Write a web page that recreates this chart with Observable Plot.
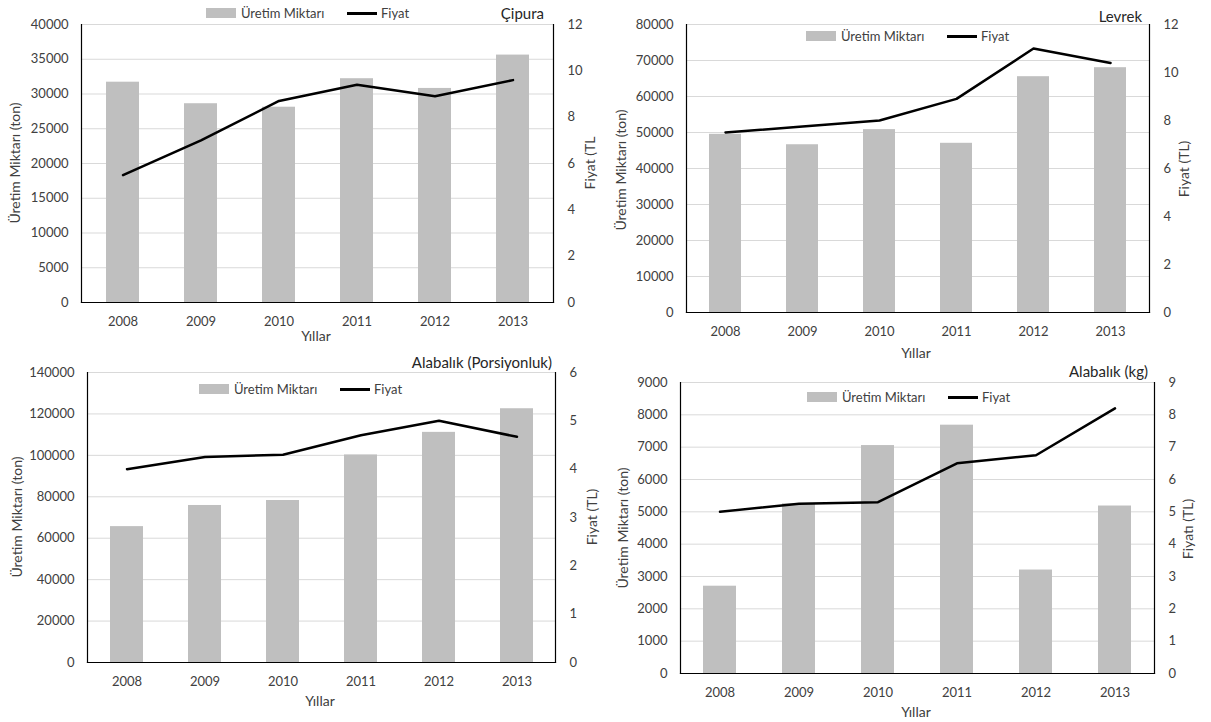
<!DOCTYPE html>
<html>
<head>
<meta charset="utf-8">
<script src="https://cdn.jsdelivr.net/npm/d3@7"></script>
<script src="https://cdn.jsdelivr.net/npm/@observablehq/plot@0.6"></script>
<style>
  html, body { margin: 0; padding: 0; background: #fff; }
  #root { position: relative; width: 1211px; height: 722px; overflow: hidden; font-family: Lato, "Open Sans", sans-serif; color: #333; }
  .abs { position: absolute; white-space: nowrap; line-height: 1; }
  .panel { position: absolute; }
  .panel svg { position: absolute; left: 0; top: 0; max-width: none; }
</style>
</head>
<body>
<div id="root"></div>
<script>
// ---------- data ----------
const years = ["2008", "2009", "2010", "2011", "2012", "2013"];

const cipuraUretim = [31700, 28600, 28100, 32200, 30800, 35600];
const cipuraFiyat  = [5.5, 7.0, 8.7, 9.4, 8.9, 9.6];

const levrekUretim = [49500, 46600, 50800, 47000, 65500, 68000];
const levrekFiyat  = [7.5, 7.75, 8.0, 8.9, 11.0, 10.4];

const porsiyonUretim = [65600, 75800, 78200, 100200, 111100, 122500];
const porsiyonFiyat  = [4.0, 4.25, 4.3, 4.7, 5.0, 4.67];

const kgUretim = [2700, 5250, 7050, 7680, 3200, 5180];
const kgFiyat  = [5.0, 5.25, 5.3, 6.5, 6.75, 8.2];

const cipuraLeftTicks   = [0, 5000, 10000, 15000, 20000, 25000, 30000, 35000, 40000];
const cipuraRightTicks  = [0, 2, 4, 6, 8, 10, 12];
const levrekLeftTicks   = [0, 10000, 20000, 30000, 40000, 50000, 60000, 70000, 80000];
const levrekRightTicks  = [0, 2, 4, 6, 8, 10, 12];
const porsiyonLeftTicks = [0, 20000, 40000, 60000, 80000, 100000, 120000, 140000];
const porsiyonRightTicks= [0, 1, 2, 3, 4, 5, 6];
const kgLeftTicks       = [0, 1000, 2000, 3000, 4000, 5000, 6000, 7000, 8000, 9000];
const kgRightTicks      = [0, 1, 2, 3, 4, 5, 6, 7, 8, 9];

const titles = ["Çipura", "Levrek", "Alabalık (Porsiyonluk)", "Alabalık (kg)"];
const leftTitles = ["Üretim Miktarı (ton)", "Üretim Miktarı (ton)", "Üretim Miktarı (ton)", "Üretim Miktarı (ton)"];
const rightTitles = ["Fiyat (TL", "Fiyat (TL)", "Fiyat (TL)", "Fiyatı (TL)"];
const xTitle = "Yıllar";
const legendLabels = ["Üretim Miktarı", "Fiyat"];

// ---------- layout (page coordinates) ----------
const panels = [
  { uretim: cipuraUretim, fiyat: cipuraFiyat, lt: cipuraLeftTicks, rt: cipuraRightTicks,
    box: [0, 0, 600, 350], frame: [81, 553, 24, 302],
    titlePos: [544, 13], leftT: [15, 163], rightT: [590, 163], xT: [316, 336], legend: [206, 13] },
  { uretim: levrekUretim, fiyat: levrekFiyat, lt: levrekLeftTicks, rt: levrekRightTicks,
    box: [600, 0, 611, 360], frame: [686, 1149, 24, 312],
    titlePos: [1142, 16], leftT: [621, 170], rightT: [1184, 169], xT: [916, 353], legend: [806, 36] },
  { uretim: porsiyonUretim, fiyat: porsiyonFiyat, lt: porsiyonLeftTicks, rt: porsiyonRightTicks,
    box: [0, 350, 600, 372], frame: [87, 555, 372, 662],
    titlePos: [552, 362], leftT: [17, 517], rightT: [592, 517], xT: [320, 701], legend: [199, 389] },
  { uretim: kgUretim, fiyat: kgFiyat, lt: kgLeftTicks, rt: kgRightTicks,
    box: [600, 350, 611, 372], frame: [680, 1154, 382, 673],
    titlePos: [1148, 371], leftT: [623, 528], rightT: [1188, 529], xT: [916, 712], legend: [807, 397] }
];

const root = document.getElementById("root");
const fontStyle = { fontFamily: "Lato, 'Open Sans', sans-serif", fontSize: "13px", color: "#404040", background: "transparent", overflow: "visible" };
const plain = d3.format("d");

function addText(txt, x, y, opts = {}) {
  const d = document.createElement("div");
  d.className = "abs";
  d.textContent = txt;
  d.style.left = x + "px";
  d.style.top = y + "px";
  d.style.fontSize = (opts.size || 14) + "px";
  d.style.color = opts.color || "#404040";
  d.style.transform = opts.transform || "translate(-50%, -50%)";
  d.style.transformOrigin = opts.origin || "center";
  root.appendChild(d);
  return d;
}
function addBox(x, y, w, h, bg) {
  const d = document.createElement("div");
  d.className = "abs";
  Object.assign(d.style, { left: x + "px", top: y + "px", width: w + "px", height: h + "px", background: bg });
  root.appendChild(d);
}

panels.forEach((p, i) => {
  const [bx, by, bw, bh] = p.box;
  const [L, R, T, B] = p.frame;
  const rows = years.map((y, k) => ({ year: y, uretim: p.uretim[k], fiyat: p.fiyat[k] }));
  const margins = { marginLeft: L - bx, marginRight: bx + bw - R, marginTop: T - by, marginBottom: by + bh - B };
  const xOpts = { type: "band", domain: years, paddingInner: 0.58, paddingOuter: 0.29 };

  const holder = document.createElement("div");
  holder.className = "panel";
  Object.assign(holder.style, { left: bx + "px", top: by + "px", width: bw + "px", height: bh + "px" });
  root.appendChild(holder);

  const bars = Plot.plot({
    width: bw, height: bh, ...margins,
    style: fontStyle,
    x: xOpts,
    y: { domain: [0, p.lt[p.lt.length - 1]] },
    marks: [
      Plot.gridY(p.lt, { stroke: "#d9d9d9", strokeOpacity: 1 }),
      Plot.barY(rows, { x: "year", y: "uretim", fill: "#bfbfbf" }),
      Plot.frame({ anchor: "left", stroke: "#000", strokeWidth: 1.2 }),
      Plot.frame({ anchor: "bottom", stroke: "#000", strokeWidth: 1.2 }),
      Plot.axisY(p.lt, { tickSize: 0, tickPadding: 13, label: null, fill: "#404040", tickFormat: plain }),
      Plot.axisX({ tickSize: 0, tickPadding: 14, label: null, fill: "#404040" })
    ]
  });
  holder.appendChild(bars);

  const line = Plot.plot({
    width: bw, height: bh, ...margins,
    style: fontStyle,
    x: { ...xOpts, axis: null },
    y: { domain: [0, p.rt[p.rt.length - 1]], axis: null },
    marks: [
      Plot.frame({ anchor: "right", stroke: "#000", strokeWidth: 1.2 }),
      Plot.axisY(p.rt, { anchor: "right", tickSize: 0, tickPadding: 14, label: null, fill: "#404040", tickFormat: plain }),
      Plot.line(rows, { x: "year", y: "fiyat", stroke: "#000", strokeWidth: 2.5 })
    ]
  });
  holder.appendChild(line);

  // titles
  addText(titles[i], p.titlePos[0], p.titlePos[1], { size: 15, color: "#262626", transform: "translate(-100%, -50%)" });
  addText(leftTitles[i], p.leftT[0], p.leftT[1], { size: 14, transform: "translate(-50%, -50%) rotate(-90deg)" });
  addText(rightTitles[i], p.rightT[0], p.rightT[1], { size: 14, transform: "translate(-50%, -50%) rotate(-90deg)" });
  addText(xTitle, p.xT[0], p.xT[1], { size: 14 });

  // legend
  const [lx, ly] = p.legend;
  addBox(lx, ly - 5, 30, 10, "#bfbfbf");
  addText(legendLabels[0], lx + 35, ly, { size: 13, transform: "translate(0, -50%)" });
  addBox(lx + 141, ly - 1.5, 30, 3, "#000");
  addText(legendLabels[1], lx + 175, ly, { size: 13, transform: "translate(0, -50%)" });
});
</script>
</body>
</html>
